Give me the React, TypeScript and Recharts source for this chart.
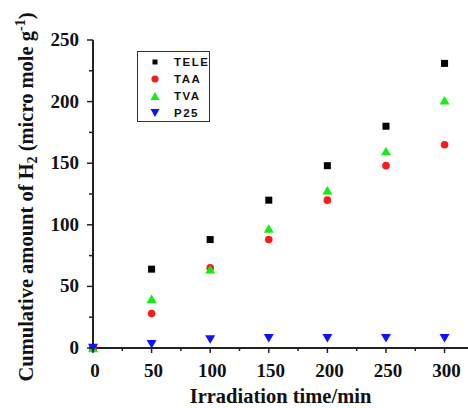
import React from 'react';
import { ScatterChart, Scatter, XAxis, YAxis } from 'recharts';

const times = [0, 50, 100, 150, 200, 250, 300];
const tele = [0, 64, 88, 120, 148, 180, 231];
const taa = [0, 28, 65, 88, 120, 148, 165];
const tva = [0, 40, 64, 97, 128, 160, 201];
const p25 = [0, 3, 7, 8, 8, 8, 8];

const xTicks = [0, 25, 50, 75, 100, 125, 150, 175, 200, 225, 250, 275, 300];
const yTicks = [0, 25, 50, 75, 100, 125, 150, 175, 200, 225, 250];

const toPoints = (values: number[]) => times.map((t, i) => ({ x: t, y: values[i] }));

const serif = '"Liberation Serif", "Times New Roman", serif';
const sans = '"Liberation Sans", Arial, sans-serif';

const Square = ({ cx, cy, size = 7, fill = '#000' }: any) => (
    <rect x={cx - size / 2} y={cy - size / 2} width={size} height={size} fill={fill} />
);
const Dot = ({ cx, cy, r = 3.8, fill = '#ff1a1a' }: any) => <circle cx={cx} cy={cy} r={r} fill={fill} />;
const Up = ({ cx, cy, w = 10, h = 8.5, fill = '#11ee11' }: any) => (
    <polygon points={`${cx - w / 2},${cy + h / 2} ${cx + w / 2},${cy + h / 2} ${cx},${cy - h / 2}`} fill={fill} />
);
const Down = ({ cx, cy, w = 10, h = 8.5, fill = '#1111ff' }: any) => (
    <polygon points={`${cx - w / 2},${cy - h / 2} ${cx + w / 2},${cy - h / 2} ${cx},${cy + h / 2}`} fill={fill} />
);

const series = [
    { name: 'TELE', values: tele, shape: (p: any) => <Square cx={p.cx} cy={p.cy} /> },
    { name: 'TAA', values: taa, shape: (p: any) => <Dot cx={p.cx} cy={p.cy} /> },
    { name: 'TVA', values: tva, shape: (p: any) => <Up cx={p.cx} cy={p.cy} /> },
    { name: 'P25', values: p25, shape: (p: any) => <Down cx={p.cx} cy={p.cy} /> },
];

const XTick = ({ x, y, payload }: any) => {
    const major = payload.value % 50 === 0;
    return (
        <g>
            <line x1={x} x2={x} y1={y} y2={y + (major ? 5 : 3)} stroke="#222" strokeWidth={1.5} />
            {major && (
                <text x={x + 2} y={y + 29} textAnchor="middle" fontFamily={serif} fontWeight="bold" fontSize={19} fill="#111">
                    {payload.value}
                </text>
            )}
        </g>
    );
};

const YTick = ({ x, y, payload }: any) => {
    const major = payload.value % 50 === 0;
    return (
        <g>
            <line x1={x} x2={x - (major ? 6 : 4)} y1={y} y2={y} stroke="#222" strokeWidth={1.5} />
            {major && (
                <text x={x - 14} y={y + 6} textAnchor="end" fontFamily={serif} fontWeight="bold" fontSize={19} fill="#111">
                    {payload.value}
                </text>
            )}
        </g>
    );
};

const YLabel = () => (
    <text
        x={0}
        y={0}
        transform="translate(33, 197) rotate(-90)"
        textAnchor="middle"
        fontFamily={serif}
        fontWeight="bold"
        fontSize={20.5}
        fill="#111"
    >
        Cumulative amount of H
        <tspan fontSize={14} dy={4}>2</tspan>
        <tspan dy={-4}> (micro mole g</tspan>
        <tspan fontSize={14} dy={-8}>-1</tspan>
        <tspan dy={8}>)</tspan>
    </text>
);

const legendMarkers = [
    <svg width={12} height={12}><Square cx={6} cy={6} size={5} /></svg>,
    <svg width={12} height={12}><Dot cx={6} cy={6} r={3.6} /></svg>,
    <svg width={12} height={12}><Up cx={6} cy={6} w={9} h={8} /></svg>,
    <svg width={12} height={12}><Down cx={6} cy={6} w={9} h={8} /></svg>,
];

const LegendBox = () => (
    <div
        style={{
            position: 'absolute',
            left: 137,
            top: 51,
            width: 71,
            height: 68,
            border: '1.5px solid #333',
            boxSizing: 'content-box',
            paddingTop: 1,
            background: '#fff',
        }}
    >
        {series.map((s, i) => (
            <div key={s.name} style={{ display: 'flex', alignItems: 'center', height: 17.2 }}>
                <div style={{ width: 12, height: 12, marginLeft: 11, marginRight: 13, display: 'flex' }}>{legendMarkers[i]}</div>
                <span style={{ fontFamily: sans, fontWeight: 'bold', fontSize: 11.5, letterSpacing: 1.5, color: '#111' }}>
                    {s.name}
                </span>
            </div>
        ))}
    </div>
);

export default function App() {
    return (
        <div style={{ position: 'absolute', left: 0, top: 0, width: 468, height: 408, background: '#fff' }}>
            <ScatterChart width={468} height={408} margin={{ top: 40, right: 0, bottom: 0, left: 0 }}>
                <XAxis
                    type="number"
                    dataKey="x"
                    domain={[0, 320]}
                    ticks={xTicks}
                    interval={0}
                    tickSize={0}
                    tickMargin={0}
                    tickLine={false}
                    height={60}
                    axisLine={{ stroke: '#222', strokeWidth: 2 }}
                    tick={<XTick />}
                    label={{
                        value: 'Irradiation time/min',
                        position: 'insideBottom',
                        offset: 5,
                        style: { fontFamily: serif, fontWeight: 'bold', fontSize: 20.5, fill: '#111' },
                    }}
                />
                <YAxis
                    type="number"
                    dataKey="y"
                    domain={[0, 250]}
                    ticks={yTicks}
                    interval={0}
                    tickSize={0}
                    tickMargin={0}
                    tickLine={false}
                    width={93}
                    axisLine={{ stroke: '#222', strokeWidth: 2 }}
                    tick={<YTick />}
                    label={<YLabel />}
                />
                {series.map((s) => (
                    <Scatter
                        key={s.name}
                        name={s.name}
                        data={toPoints(s.values)}
                        shape={s.shape}
                        isAnimationActive={false}
                    />
                ))}
            </ScatterChart>
            <LegendBox />
        </div>
    );
}
